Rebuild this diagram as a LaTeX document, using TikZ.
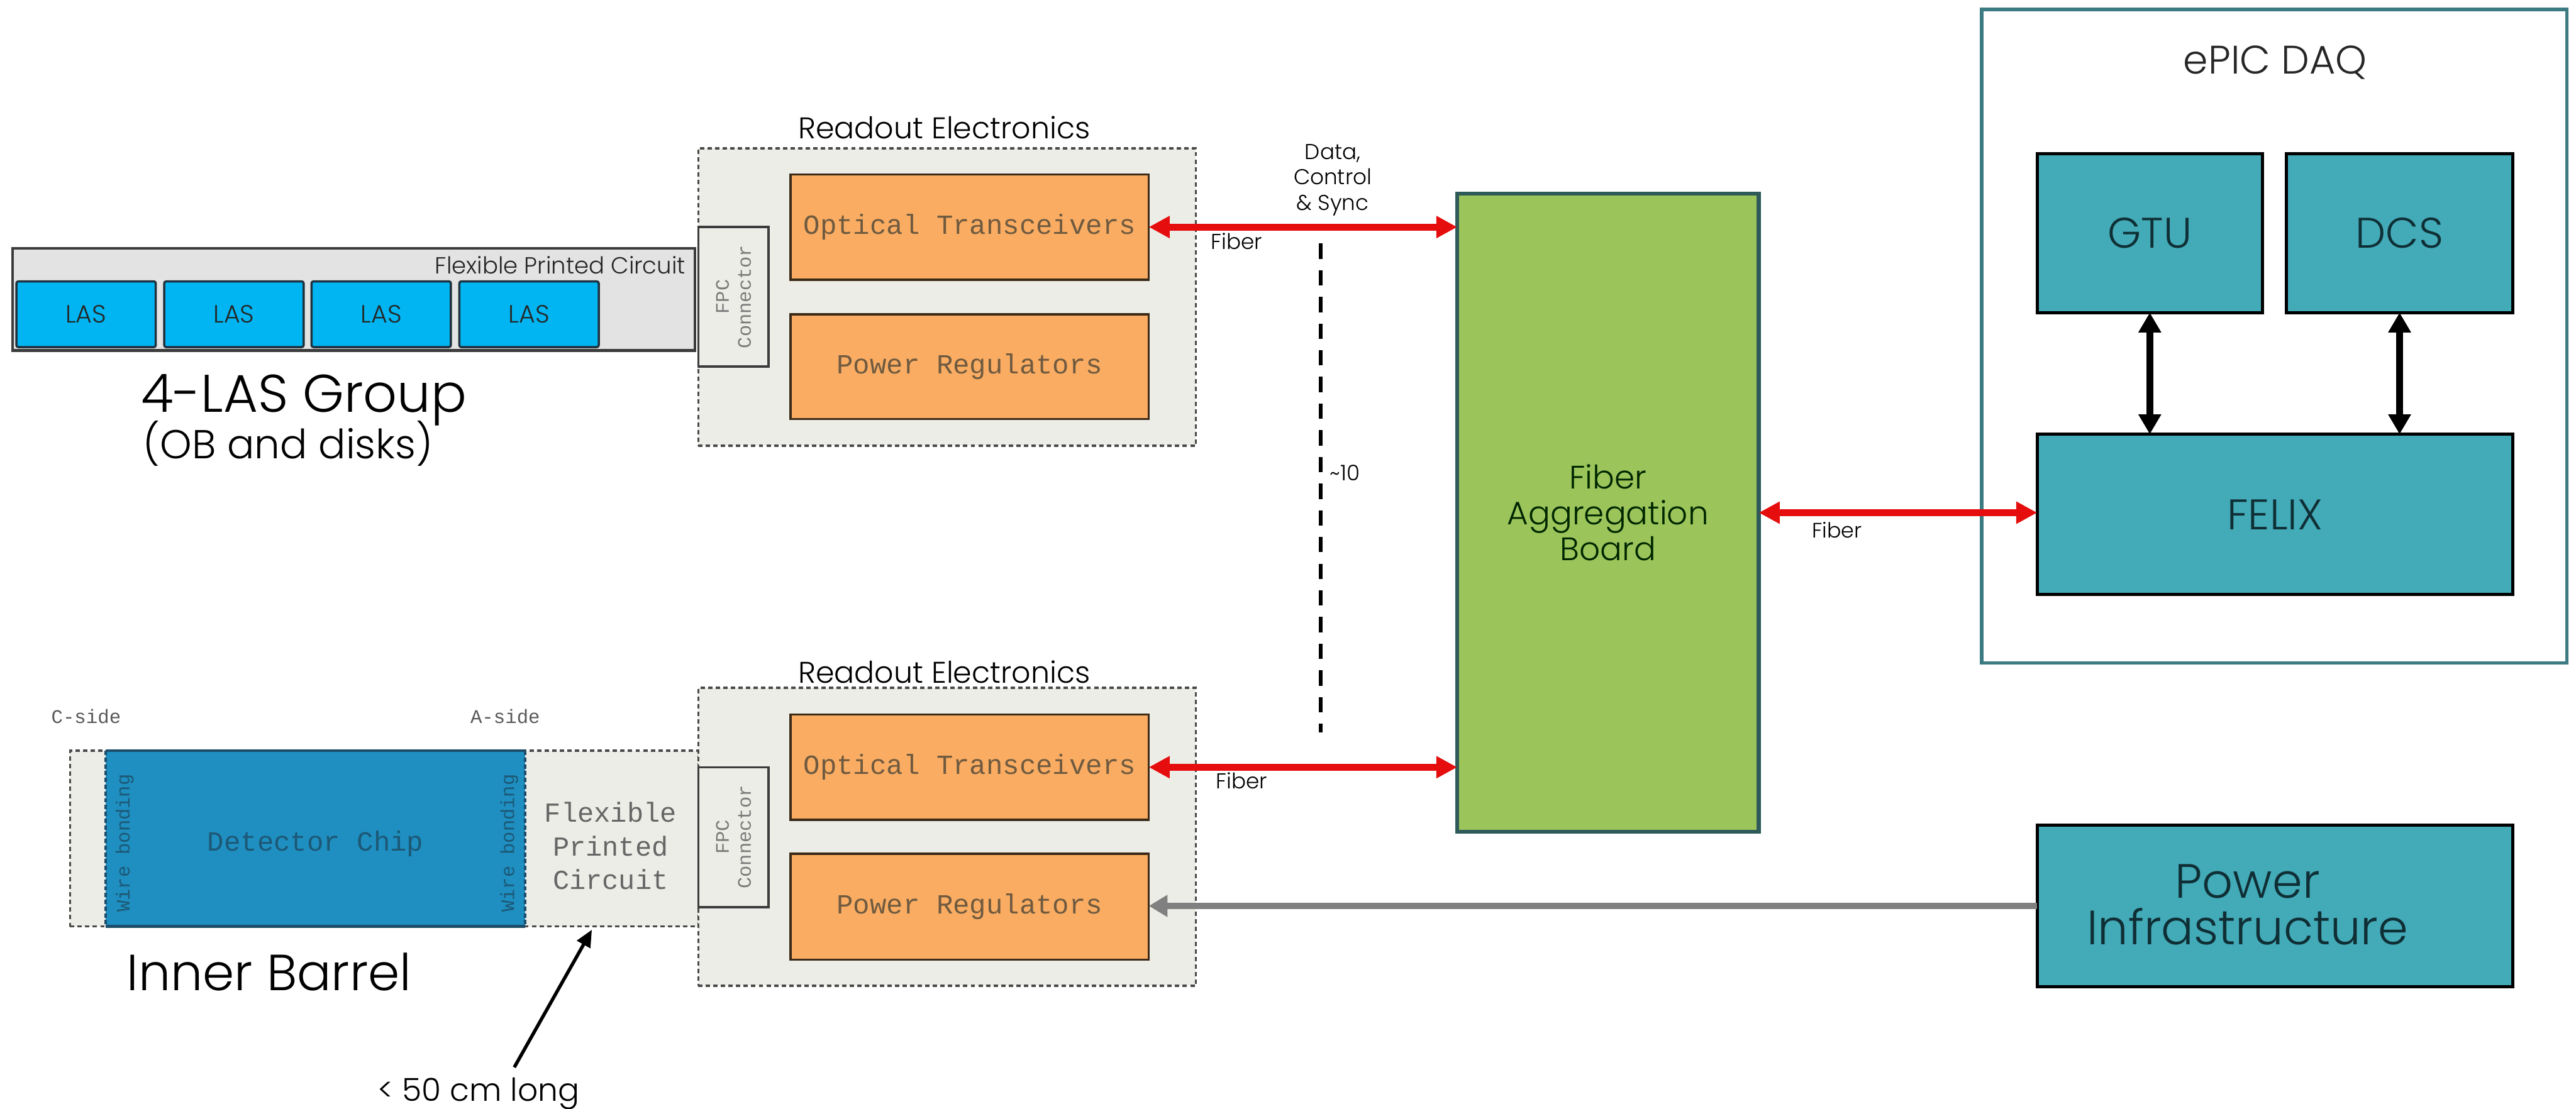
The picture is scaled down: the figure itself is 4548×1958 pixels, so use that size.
\documentclass[tikz,border=0pt]{standalone}
\usepackage{fontspec}
\setmainfont{Poppins}[UprightFont=* Light]
\setmonofont{Liberation Mono}
\usetikzlibrary{arrows.meta}

\definecolor{lasblue}{HTML}{00B5F1}
\definecolor{lasedge}{HTML}{1E3240}
\definecolor{fpcgray}{HTML}{E3E3E3}
\definecolor{fpcedge}{HTML}{3C3C3C}
\definecolor{roback}{HTML}{EDEDE7}
\definecolor{roedge}{HTML}{4A4A4A}
\definecolor{orangefill}{HTML}{FAAD62}
\definecolor{orangeedge}{HTML}{3B2A18}
\definecolor{monobrown}{HTML}{6F5A40}
\definecolor{boardgreen}{HTML}{9BC45B}
\definecolor{boardedge}{HTML}{2E5A5A}
\definecolor{tealfill}{HTML}{43AAB8}
\definecolor{tealtext}{HTML}{0F2F35}
\definecolor{daqedge}{HTML}{3C7B82}
\definecolor{chipfill}{HTML}{1E8FC0}
\definecolor{chipedge}{HTML}{1C4D6A}
\definecolor{chiptext}{HTML}{1D5876}
\definecolor{fiberred}{HTML}{E50D0D}
\definecolor{powergray}{HTML}{808080}
\definecolor{labelgray}{HTML}{7A7A7A}

\newcommand\fsz[2]{\fontsize{#1pt}{#2pt}\selectfont}

\tikzset{
  every node/.style={inner sep=0pt, outer sep=0pt},
  fpcband/.style={draw=fpcedge, fill=fpcgray, line width=1.3pt},
  lasbox/.style={draw=lasedge, fill=lasblue, line width=1.1pt, rounded corners=1pt,
    font=\fsz{12.5}{14}, text=black!85},
  robox/.style={draw=roedge, fill=roback, line width=1.1pt, dash pattern=on 2.2pt off 1.6pt},
  conbox/.style={draw=fpcedge, fill=roback, line width=1.1pt, align=center,
    font=\ttfamily\fsz{9.6}{11}, text=labelgray},
  orangebox/.style={draw=orangeedge, fill=orangefill, line width=1.1pt,
    font=\ttfamily\fsz{13.9}{16}, text=monobrown},
  boardbox/.style={draw=boardedge, fill=boardgreen, line width=2pt, align=center,
    font=\fsz{16.3}{18}, text=black!85!green},
  tealbox/.style={draw=black, fill=tealfill, line width=1.6pt, align=center,
    font=\fsz{21.5}{24}, text=tealtext},
  daqframe/.style={draw=daqedge, fill=white, line width=1.6pt},
  chipbox/.style={fill=chipfill},
  ibfpc/.style={draw=roedge, fill=roback, line width=1.1pt, dash pattern=on 2.2pt off 1.6pt},
  fiberlink/.style={draw=fiberred, line width=3.4pt,
    {Triangle[length=0.37cm,width=0.37cm]}-{Triangle[length=0.37cm,width=0.37cm]}},
  powerlink/.style={draw=powergray, line width=2.85pt, -{Triangle[length=0.33cm,width=0.37cm]}},
  ctrllink/.style={draw=black, line width=3.4pt,
    {Triangle[length=0.35cm,width=0.38cm]}-{Triangle[length=0.35cm,width=0.38cm]}},
  notelink/.style={draw=black, line width=1.7pt, -{Triangle[length=0.3cm,width=0.26cm]}},
  rangeline/.style={draw=black, line width=2pt, dash pattern=on 7.7pt off 5.7pt},
  smalltext/.style={font=\fsz{10.8}{12.5}, text=black},
}

\begin{document}
\begin{tikzpicture}[x=0.01cm,y=-0.01cm]
\useasboundingbox[fill=white] (0,0) rectangle (4548,1958);

% ---------- ePIC DAQ ----------
\node[daqframe, minimum width=10.33cm, minimum height=11.54cm] (daq) at (4015.5,594) {};
\node[anchor=base, font=\fsz{20}{24}, text=black!85] (daqtitle) at (4017,130) {ePIC DAQ};
\node[tealbox, minimum width=3.97cm, minimum height=2.80cm] (gtu) at (3795.5,412) {GTU};
\node[tealbox, minimum width=3.99cm, minimum height=2.80cm] (dcs) at (4236.5,412) {DCS};
\node[tealbox, minimum width=8.39cm, minimum height=2.83cm] (felix) at (4016.5,908.5) {FELIX};
\draw[ctrllink] (gtu.south) -- (gtu.south |- felix.north);
\draw[ctrllink] (dcs.south) -- (dcs.south |- felix.north);

% ---------- power infrastructure ----------
\node[tealbox, minimum width=8.39cm, minimum height=2.86cm] (pinf) at (4016.5,1600) {};
\node[align=center, font=\fsz{24.2}{23.5}, text=tealtext] (pinftext) at (3968,1598) {Power\\Infrastructure};

% ---------- fiber aggregation board ----------
\node[boardbox, minimum width=5.32cm, minimum height=11.27cm] (fab) at (2839,905.5) {Fiber\\Aggregation\\Board};

% ---------- upper readout electronics ----------
\node[robox, minimum width=8.78cm, minimum height=5.25cm] (roA) at (1672,524.5) {};
\node[anchor=base, font=\fsz{15}{18}] (roAtitle) at (1667,245) {Readout Electronics};
\node[orangebox, minimum width=6.32cm, minimum height=1.86cm] (optA) at (1712,401) {Optical Transceivers};
\node[orangebox, minimum width=6.32cm, minimum height=1.85cm] (pregA) at (1712,647.5) {Power Regulators};
\node[conbox, rotate=90, minimum width=2.46cm, minimum height=1.24cm] (conA) at (1295,524) {FPC\\Connector};

% ---------- 4-LAS group ----------
\node[fpcband, minimum width=12.04cm, minimum height=1.80cm] (fpcA) at (625,529) {};
\node[anchor=east, font=\fsz{11.7}{13}, text=black!85] (fpcAtext) at (1210,468) {Flexible Printed Circuit};
\node[lasbox, minimum width=2.46cm, minimum height=1.16cm] (las1) at (152,555) {LAS};
\node[lasbox, minimum width=2.46cm, minimum height=1.16cm] (las2) at (413,555) {LAS};
\node[lasbox, minimum width=2.46cm, minimum height=1.16cm] (las3) at (673,555) {LAS};
\node[lasbox, minimum width=2.46cm, minimum height=1.16cm] (las4) at (934,555) {LAS};
\node[anchor=base west, font=\fsz{26.6}{29}] (lasgroup) at (249,728) {4-LAS Group};
\node[anchor=base west, font=\fsz{20.3}{23}] (lasgroupsub) at (253,810) {(OB and disks)};

% ---------- links from the upper readout ----------
\draw[fiberlink] (optA.east) -- (optA.east -| fab.west);
\node[anchor=base west, smalltext] (fiberA) at (2138,440) {Fiber};
\node[align=center, font=\fsz{10.8}{12.8}, text=black] (dcsync) at (2353,318) {Data,\\Control\\\& Sync};
\coordinate (rangetop) at (2332,430);
\coordinate (rangebot) at (2332,1294);
\draw[rangeline] (rangetop) -- (rangebot);
\node[anchor=base west, font=\fsz{10.8}{12}] (rangecount) at (2348,849) {\textasciitilde 10};

% ---------- lower readout electronics ----------
\node[ibfpc, minimum width=11.09cm, minimum height=3.10cm] (ibflex) at (678.5,1481) {};
\node[robox, minimum width=8.78cm, minimum height=5.26cm] (roB) at (1672,1478) {};
\node[anchor=base, font=\fsz{15}{18}] (roBtitle) at (1667,1206) {Readout Electronics};
\node[orangebox, minimum width=6.32cm, minimum height=1.86cm] (optB) at (1712,1355) {Optical Transceivers};
\node[orangebox, minimum width=6.32cm, minimum height=1.87cm] (pregB) at (1712,1601.5) {Power Regulators};
\node[conbox, rotate=90, minimum width=2.47cm, minimum height=1.24cm] (conB) at (1295,1478.5) {FPC\\Connector};

\draw[fiberlink] (optB.east) -- (optB.east -| fab.west);
\node[anchor=base west, smalltext] (fiberB) at (2147,1393) {Fiber};
\draw[powerlink] (pinf.west) -- (pinf.west -| pregB.east);

% ---------- inner barrel ----------
\node[chipbox, minimum width=7.40cm, minimum height=3.10cm] (chip) at (557,1481) {};
\draw[chipedge, line width=1.4pt] (chip.north west) -- (chip.north east);
\draw[chipedge, line width=1.4pt] (chip.south west) -- (chip.south east);
\draw[chipedge, line width=1.1pt, dash pattern=on 2.2pt off 1.2pt] (chip.north west) -- (chip.south west);
\draw[chipedge, line width=1.1pt, dash pattern=on 2.2pt off 1.2pt] (chip.north east) -- (chip.south east);
\node[font=\ttfamily\fsz{13.9}{16}, text=chiptext] (chiptitle) at (557,1490) {Detector Chip};
\node[rotate=90, font=\ttfamily\fsz{9.6}{11}, text=chiptext] (bondC) at (220,1489) {Wire bonding};
\node[rotate=90, font=\ttfamily\fsz{9.6}{11}, text=chiptext] (bondA) at (899,1489) {Wire bonding};
\node[align=center, font=\ttfamily\fsz{13.8}{16.8}, text=black!60] (ibflextext) at (1078,1494) {Flexible\\Printed\\Circuit};
\node[anchor=base, font=\ttfamily\fsz{9.7}{11}, text=black!65] (cside) at (152,1278) {C-side};
\node[anchor=base, font=\ttfamily\fsz{9.7}{11}, text=black!65] (aside) at (892,1278) {A-side};
\node[anchor=base west, font=\fsz{25.5}{30}] (ibtitle) at (224,1749) {Inner Barrel};

\coordinate (lengthtail) at (908,1885);
\coordinate (lengthtip) at (1045,1642);
\draw[notelink] (lengthtail) -- (lengthtip);
\node[anchor=base, font=\fsz{15.9}{18}] (lengthnote) at (845,1945) {< 50 cm long};

% ---------- link to FELIX ----------
\draw[fiberlink] (fab.east) -- (fab.east -| felix.west);
\node[anchor=base west, font=\fsz{10.5}{12}] (fiberC) at (3199,950) {Fiber};

\end{tikzpicture}
\end{document}
